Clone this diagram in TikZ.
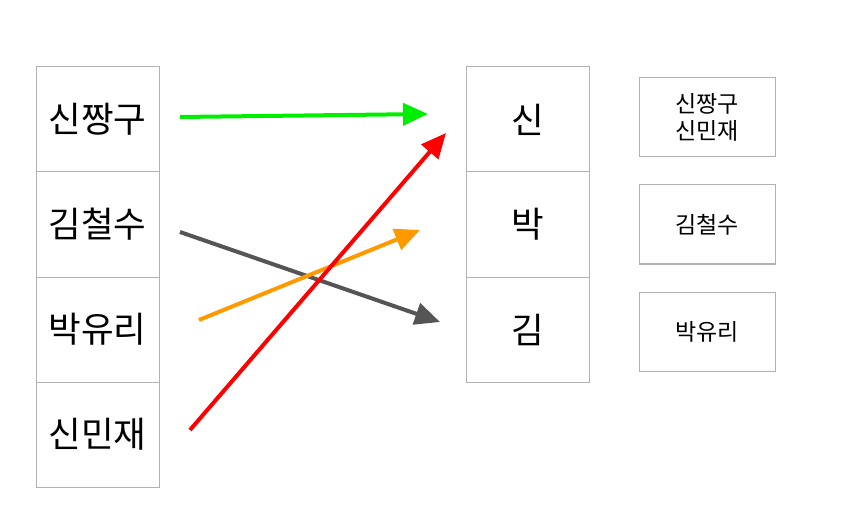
\documentclass[tikz,border=0pt]{standalone}
\usepackage{fontspec}
\setmainfont{Noto Sans CJK KR}
\usetikzlibrary{arrows.meta}

\tikzset{
  cell/.style={draw=black!30, line width=1pt, minimum width=123pt, minimum height=105pt, inner sep=0pt, font=\fontsize{35.5}{40}\selectfont},
  tag/.style={draw=black!30, line width=1pt, minimum width=136pt, minimum height=79pt, inner sep=0pt, align=center, font=\fontsize{23}{27}\selectfont},
  link/.style={line width=4pt, -{Triangle[length=25pt,width=22pt]}}
}

\begin{document}
\begin{tikzpicture}[x=1pt,y=-1pt]
\useasboundingbox (0,0) rectangle (856,529);

% names
\node[cell] (shin) at (97.5,119.5) {신짱구};
\node[cell] (kim) at (97.5,224.5) {김철수};
\node[cell] (park) at (97.5,329.5) {박유리};
\node[cell] (min) at (97.5,434.5) {신민재};

% family names
\node[cell] (fshin) at (528,119.5) {신};
\node[cell] (fpark) at (528,224.5) {박};
\node[cell] (fkim) at (528,329.5) {김};

% groups
\node[tag] (gshin) at (707,117.5) {신짱구\\신민재};
\node[tag] (gkim) at (707,224.5) {김철수};
\node[tag] (gpark) at (707,331.5) {박유리};

\coordinate (a1) at (180,117);
\coordinate (b1) at (428,114);
\coordinate (a2) at (180,232);
\coordinate (b2) at (440,322);
\coordinate (a3) at (199,320);
\coordinate (b3) at (420,230);
\coordinate (a4) at (190,430);
\coordinate (b4) at (446,133);

\draw[link, color={rgb,255:red,0;green,238;blue,0}] (a1) -- (b1);
\draw[link, color={rgb,255:red,85;green,85;blue,85}] (a2) -- (b2);
\draw[link, color={rgb,255:red,255;green,153;blue,0}] (a3) -- (b3);
\draw[link, red] (a4) -- (b4);

\end{tikzpicture}
\end{document}
